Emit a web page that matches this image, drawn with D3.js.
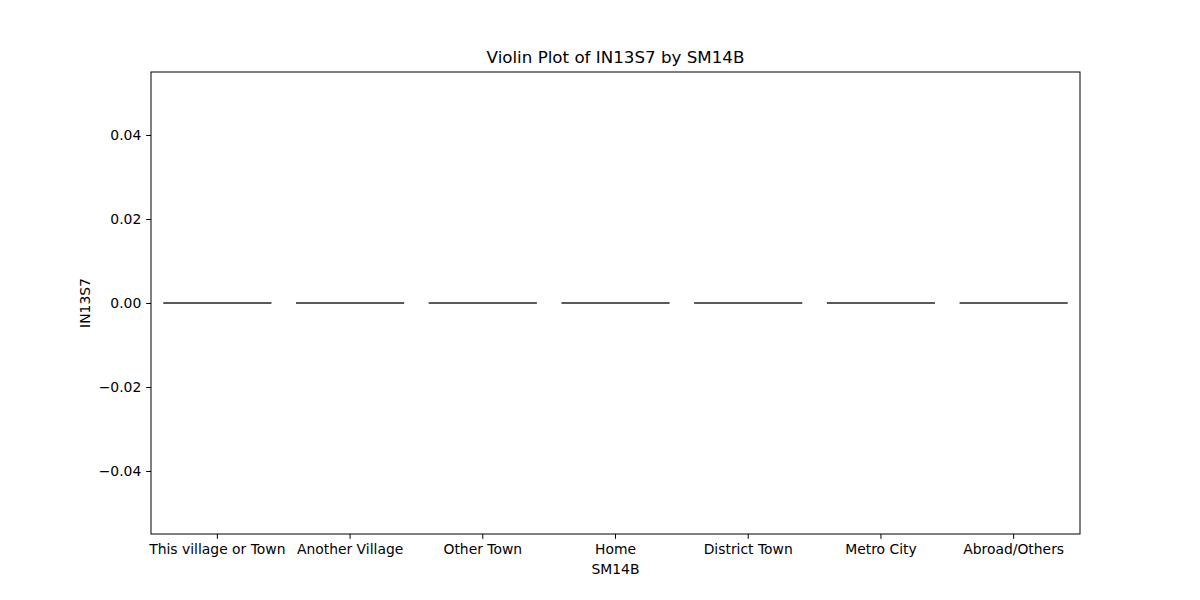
<!DOCTYPE html>
<html><head><meta charset="utf-8">
<script src="https://cdn.jsdelivr.net/npm/d3@7"></script>
<style>body{margin:0;background:#fff}text{font-family:"DejaVu Sans",sans-serif}</style>
</head><body>
<svg id="c" width="1200" height="600"></svg>
<script>
const categories = ["This village or Town","Another Village","Other Town","Home","District Town","Metro City","Abroad/Others"];
const values = [0,0,0,0,0,0,0];
const yTicks = [-0.04,-0.02,0.00,0.02,0.04];
const title = "Violin Plot of IN13S7 by SM14B";
const xLabel = "SM14B";
const yLabel = "IN13S7";

const svg = d3.select("#c");
const L=151,R=1080,T=72,B=534;
const x = d3.scaleBand().domain(categories).range([L,R]);
const y = d3.scaleLinear().domain([-0.055,0.055]).range([B,T]);

svg.append("rect").attr("x",L).attr("y",T).attr("width",R-L).attr("height",B-T)
  .attr("fill","none").attr("stroke","#000").attr("stroke-width",1);

const fmt = d => (d<0?"\u2212":"")+Math.abs(d).toFixed(2);
const xa = svg.append("g").attr("transform",`translate(0,${B})`)
  .call(d3.axisBottom(x).tickSize(4.86).tickPadding(4.86));
const ya = svg.append("g").attr("transform",`translate(${L},0)`)
  .call(d3.axisLeft(y).tickValues(yTicks).tickFormat(fmt).tickSize(4.86).tickPadding(4.86));
[xa,ya].forEach(a=>{a.select(".domain").remove();
  a.selectAll("text").attr("font-size","13.9px").attr("fill","#000").style("font-family","DejaVu Sans");
  a.selectAll("line").attr("stroke","#000");});

const w = x.bandwidth()*0.8;
svg.append("g").selectAll("line").data(categories).join("line")
  .attr("x1",d=>x(d)+x.bandwidth()/2-w/2)
  .attr("x2",d=>x(d)+x.bandwidth()/2+w/2)
  .attr("y1",(d,i)=>y(values[i])).attr("y2",(d,i)=>y(values[i]))
  .attr("stroke","#595959").attr("stroke-width",2).attr("stroke-linecap","square");

svg.append("text").attr("x",(L+R)/2).attr("y",T-9).attr("text-anchor","middle")
  .attr("font-size","16.7px").attr("fill","#000").text(title);
svg.append("text").attr("x",(L+R)/2).attr("y",574).attr("text-anchor","middle")
  .attr("font-size","13.9px").attr("fill","#000").text(xLabel);
svg.append("text").attr("transform",`translate(90,${(T+B)/2}) rotate(-90)`).attr("text-anchor","middle")
  .attr("font-size","13.9px").attr("fill","#000").text(yLabel);
</script>
</body></html>
